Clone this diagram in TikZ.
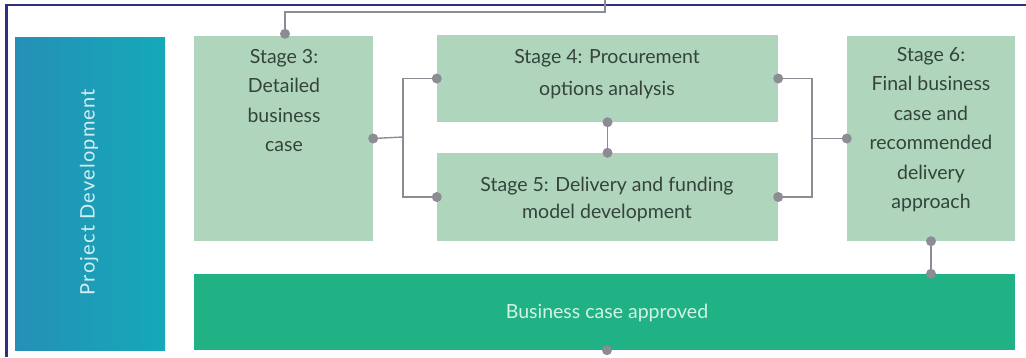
\documentclass[tikz,border=0pt]{standalone}
\usepackage{fontspec}
\setmainfont{Lato}
\definecolor{frame}{HTML}{2E3080}
\definecolor{stagefill}{HTML}{B0D5BD}
\definecolor{stagetext}{HTML}{34443A}
\definecolor{busfill}{HTML}{20B185}
\definecolor{bustext}{HTML}{D4F2E4}
\definecolor{pdleft}{HTML}{2590B6}
\definecolor{pdright}{HTML}{15A9B9}
\definecolor{pdtext}{HTML}{D2EEF2}
\definecolor{conn}{HTML}{8C8C94}
\begin{document}
\begin{tikzpicture}[x=1pt,y=-1pt,
  stagebox/.style={rectangle, fill=stagefill, draw=none, inner sep=0pt},
  stagelabel/.style={inner sep=0pt, align=center, text=stagetext, font=\fontsize{19.5}{29.5}\selectfont},
  connline/.style={draw=conn, line width=1.4pt},
  dot/.style={circle, fill=conn, inner sep=0pt, minimum size=10pt}
]
\useasboundingbox (0,0) rectangle (1026,357);
% frame (left and top edges)
\draw[frame, line width=2.5pt] (6.5,357) -- (6.5,5) -- (1026,5);

% project development
\node[rectangle, inner sep=0pt, minimum width=150pt, minimum height=313pt,
      left color=pdleft, right color=pdright] (pd) at (90,193.5) {};
\node[rotate=90, text=pdtext, inner sep=0pt, font=\fontsize{20}{22}\selectfont\addfontfeature{LetterSpace=6}] (pdlabel) at (89,192) {Project Development};

% stages
\node[stagebox, minimum width=179pt, minimum height=205pt] (s3) at (283.5,138.5) {};
\node[stagebox, minimum width=341pt, minimum height=87pt] (s4) at (607.5,78.5) {};
\node[stagebox, minimum width=341pt, minimum height=88pt] (s5) at (607.5,197) {};
\node[stagebox, minimum width=168pt, minimum height=205pt] (s6) at (931,138.5) {};
\node[rectangle, fill=busfill, inner sep=0pt, minimum width=821pt, minimum height=76pt] (bus) at (604.5,312) {};

\node[stagelabel, anchor=north] (t3) at (284,49) {Stage 3:\\Detailed\\business\\case};
\node[stagelabel, font=\fontsize{19.5}{32}\selectfont] (t4) at (607,74) {Stage 4: Procurement\\options analysis};
\node[stagelabel, font=\fontsize{19.5}{27}\selectfont] (t5) at (607,199) {Stage 5: Delivery and funding\\model development};
\node[stagelabel, anchor=north] (t6) at (931,47) {Stage 6:\\Final business\\case and\\recommended\\delivery\\approach};
\node[inner sep=0pt, text=bustext, font=\fontsize{19.5}{22}\selectfont] (tb) at (607,313) {Business case approved};

% connectors
\coordinate (topin) at (605,0);
\draw[connline] (topin) -- ++(0,12) -| ([xshift=1.5pt,yshift=2pt]s3.north);
\coordinate (j1) at (403,137);
\draw[connline] (s3.east) -- (j1);
\draw[connline] (s4.west) -| (j1) |- (s5.west);
\draw[connline] (s4.south) -- (s5.north);
\coordinate (j2) at (812,138.5);
\draw[connline] (s4.east) -| (j2) |- (s5.east);
\draw[connline] (j2) -- (s6.west);
\coordinate (bustop) at (s6.south |- bus.north);
\draw[connline] (s6.south) -- (bustop);

% dots
\node[dot] (d0) at ([xshift=1.5pt,yshift=2pt]s3.north) {};
\node[dot] (d1) at (s3.east) {};
\node[dot] (d2) at (s4.west) {};
\node[dot] (d3) at (s5.west) {};
\node[dot] (d4) at (s4.south) {};
\node[dot] (d5) at (s5.north) {};
\node[dot] (d6) at (s4.east) {};
\node[dot] (d7) at (s5.east) {};
\node[dot] (d8) at (s6.west) {};
\node[dot] (d9) at (s6.south) {};
\node[dot] (d10) at (bustop) {};
\node[dot] (d11) at ([xshift=2.5pt]bus.south) {};
\end{tikzpicture}
\end{document}
